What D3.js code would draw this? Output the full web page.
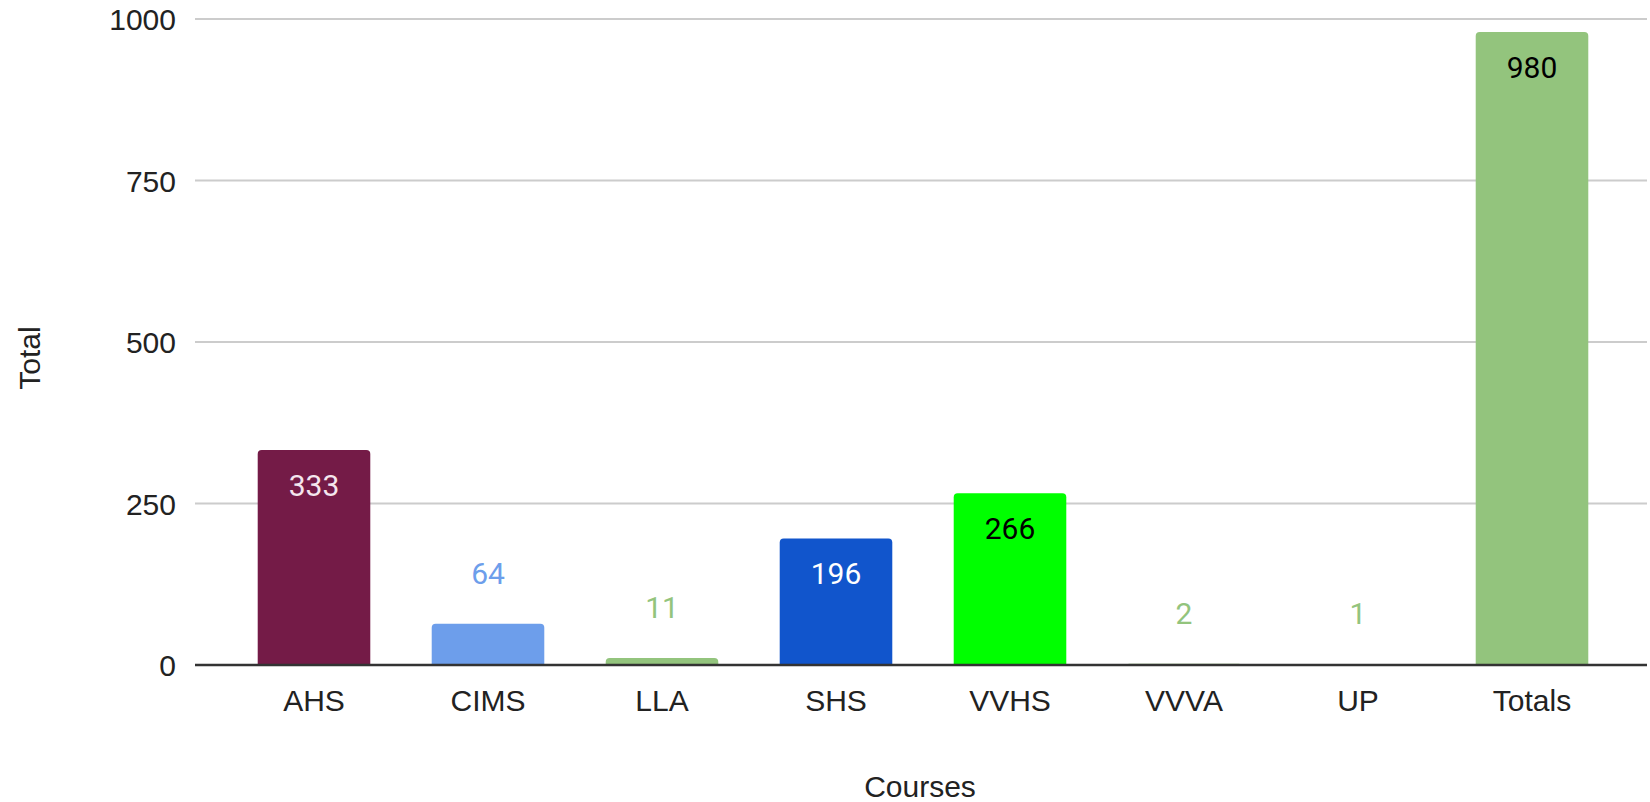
<!DOCTYPE html>
<html>
<head>
<meta charset="utf-8">
<script src="https://cdn.jsdelivr.net/npm/d3@7"></script>
<style>
  body { margin: 0; background: #fff; }
  svg { display: block; }
  .tick-label { font-family: "Liberation Sans", Arial, sans-serif; font-size: 30px; fill: #222; }
  .value-label { font-family: Roboto, "Open Sans", sans-serif; font-size: 30px; }
</style>
</head>
<body>
<svg id="chart" width="1650" height="802"></svg>
<script>
const courses = ['AHS', 'CIMS', 'LLA', 'SHS', 'VVHS', 'VVVA', 'UP', 'Totals']
const totals = [333, 64, 11, 196, 266, 2, 1, 980]
const barColors = ['#741b47', '#6d9eeb', '#93c47d', '#1155cc', '#00ff00', '#93c47d', '#93c47d', '#93c47d']
// label colour when the label sits inside the bar
const insideColors = ['#f4e6ee', null, null, '#ffffff', '#000000', null, null, '#000000']
const yTicks = [0, 250, 500, 750, 1000]

const svg = d3.select('#chart')
const plotLeft = 195
const plotRight = 1647

const x = d3.scaleBand().domain(courses).range([227, 1619]).paddingInner(0.353).paddingOuter(0.1765)
const y = d3.scaleLinear().domain([0, 1000]).range([665, 19])

// gridlines
svg.append('g')
    .selectAll('line')
    .data(yTicks.filter((d) => d > 0))
    .enter()
        .append('line')
            .attr('x1', plotLeft)
            .attr('x2', plotRight)
            .attr('y1', (d) => y(d))
            .attr('y2', (d) => y(d))
            .attr('stroke', '#cccccc')
            .attr('stroke-width', 2)

// y axis labels
const yAxis = d3.axisLeft(y).tickValues(yTicks).tickFormat(d3.format('d')).tickSize(0).tickPadding(0)
const yg = svg.append('g').attr('transform', `translate(176,0)`).call(yAxis)
yg.select('.domain').remove()
yg.selectAll('text').attr('class', 'tick-label').attr('font-size', null).attr('font-family', null).attr('fill', null).attr('dy', '0.35em')

// bars with rounded top corners
const r = 4
function barPath(d, i) {
    const x0 = x(courses[i])
    const w = x.bandwidth()
    const y0 = y(0)
    const y1 = y(d)
    const rr = Math.min(r, (y0 - y1))
    return `M${x0},${y0}V${y1 + rr}Q${x0},${y1} ${x0 + rr},${y1}H${x0 + w - rr}Q${x0 + w},${y1} ${x0 + w},${y1 + rr}V${y0}Z`
}

svg.append('g')
    .selectAll('path')
    .data(totals)
    .enter()
        .append('path')
            .attr('d', (d, i) => barPath(d, i))
            .attr('fill', (d, i) => barColors[i])

// value labels
svg.append('g')
    .selectAll('text')
    .data(totals)
    .enter()
        .append('text')
            .attr('class', 'value-label')
            .attr('text-anchor', 'middle')
            .attr('x', (d, i) => x(courses[i]) + x.bandwidth() / 2)
            .attr('y', (d, i) => insideColors[i] ? y(d) + 46 : y(d) - 40)
            .attr('fill', (d, i) => insideColors[i] || barColors[i])
            .text((d) => d)

// baseline
svg.append('line')
    .attr('x1', plotLeft)
    .attr('x2', plotRight)
    .attr('y1', y(0))
    .attr('y2', y(0))
    .attr('stroke', '#333333')
    .attr('stroke-width', 2.5)

// x axis labels
const xAxis = d3.axisBottom(x).tickSize(0).tickPadding(0)
const xg = svg.append('g').attr('transform', `translate(0,${y(0)})`).call(xAxis)
xg.select('.domain').remove()
xg.selectAll('text').attr('class', 'tick-label').attr('font-size', null).attr('font-family', null).attr('fill', null).attr('dy', null).attr('y', 46)

// axis titles
svg.append('text')
    .attr('class', 'tick-label')
    .attr('text-anchor', 'middle')
    .attr('x', 920)
    .attr('y', 797)
    .text('Courses')

svg.append('text')
    .attr('class', 'tick-label')
    .attr('text-anchor', 'middle')
    .attr('transform', 'translate(40,358) rotate(-90)')
    .text('Total')
</script>
</body>
</html>
